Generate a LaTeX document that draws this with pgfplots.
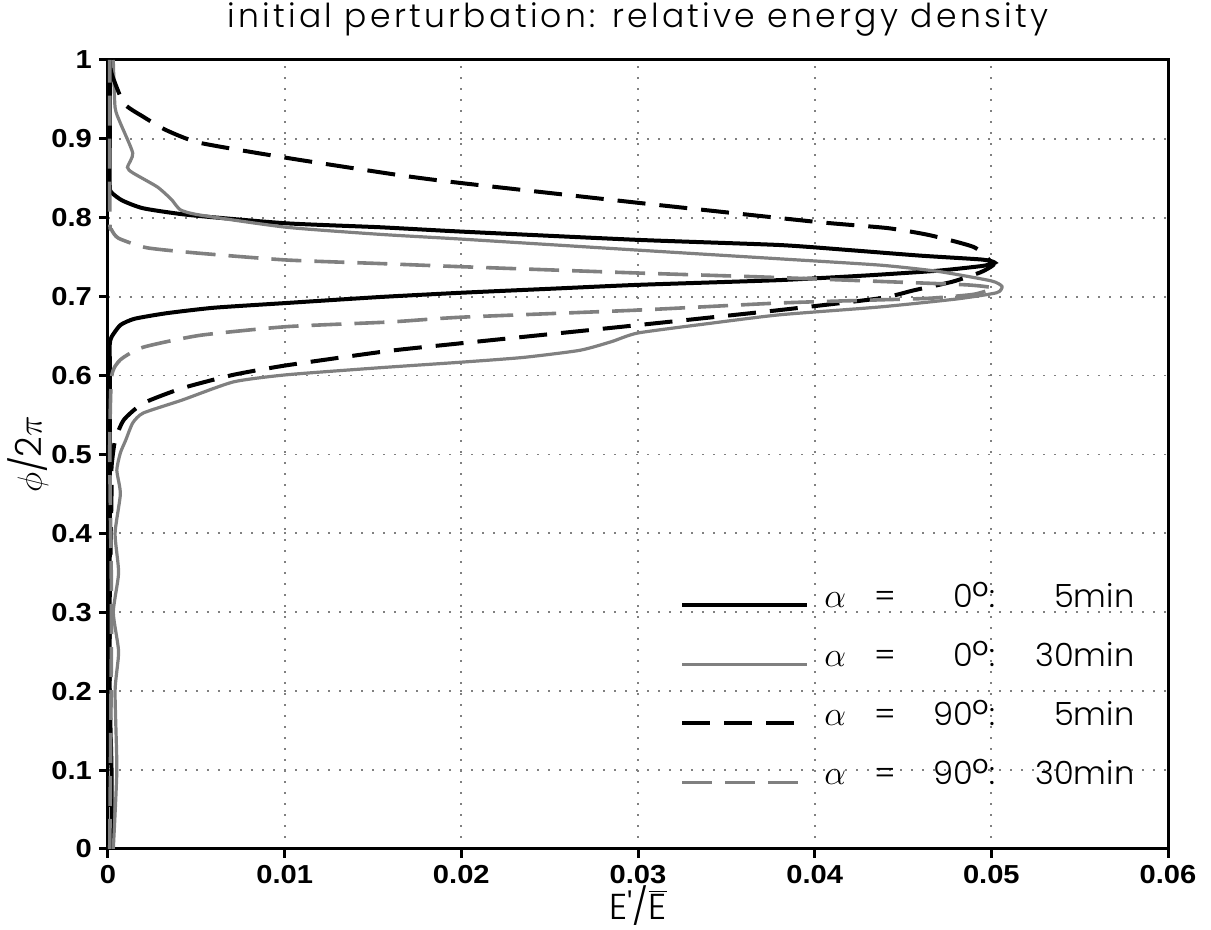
\documentclass[border=0pt]{standalone}
\usepackage{pgfplots}
\pgfplotsset{compat=1.18}
\usepackage{fontspec}
\newfontfamily\lightfont{Poppins Light}
\newfontfamily\titlefont[LetterSpace=10]{Poppins Light}
\newfontfamily\tickfont[FakeStretch=1.12]{Liberation Sans}
\definecolor{cgray}{RGB}{128,128,128}
\newcommand{\dg}{\raisebox{-2pt}{\fontsize{21}{21}\selectfont°}}
\newcommand{\lt}[2]{\makebox[20pt][l]{$\alpha$}\makebox[21pt][c]{=}\makebox[41.5pt][r]{#1\dg}:\makebox[69.5pt][r]{#2min}}
\begin{document}
\begin{tikzpicture}
\path[use as bounding box] (-54pt,-40.5pt) rectangle (551.5pt,424.5pt);
\begin{axis}[
  at={(0pt,0pt)}, anchor=south west,
  scale only axis, width=530pt, height=394.5pt,
  xmin=0, xmax=0.06, ymin=0, ymax=1,
  scaled x ticks=false, scaled y ticks=false,
  xtick={0,0.01,0.02,0.03,0.04,0.05,0.06},
  xticklabels={0,0.01,0.02,0.03,0.04,0.05,0.06},
  ytick={0,0.1,0.2,0.3,0.4,0.5,0.6,0.7,0.8,0.9,1},
  yticklabels={0,0.1,0.2,0.3,0.4,0.5,0.6,0.7,0.8,0.9,1},
  /pgf/number format/assume math mode=true,
  ticklabel style={font=\tickfont\bfseries\fontsize{13}{15}\selectfont},
  xtick pos=left, ytick pos=left,
  tick align=outside, major tick length=4.5pt,
  tick style={black, line width=1.5pt},
  axis line style={black, line width=1.5pt},
  grid=major,
  major grid style={cgray, line width=0.9pt, dash pattern=on 0.9pt off 4.6pt},
  title={initial perturbation: relative energy density},
  every axis title/.style={at={(axis description cs:0.5,1.0406)}, anchor=base, font=\titlefont\fontsize{16.5}{18}\selectfont},
  xlabel={E\textquotesingle/$\overline{\hbox{E}}$},
  every axis x label/.style={at={(axis description cs:0.5,-0.0715)}, anchor=center, font=\lightfont\fontsize{18}{20}\selectfont},
  ylabel={$\phi$/2$\pi$},
  every axis y label/.style={at={(axis description cs:-0.0755,0.5)}, rotate=90, anchor=center, font=\lightfont\fontsize{18}{20}\selectfont},
  legend style={at={(axis description cs:0.5396,0.3346)}, anchor=north west, draw=none, fill=none, inner sep=0pt,
    font=\lightfont\fontsize{16}{18}\selectfont, row sep=17.5pt,
    nodes={inner sep=0pt, text height=11pt, text depth=1pt},
    /tikz/every odd column/.append style={column sep=7.5pt}},
  legend cell align=left,
  legend image code/.code={\draw[#1] (0pt,-4pt) -- (62.5pt,-4pt);},
]
\addplot[black, line width=2pt, smooth, tension=0.35] coordinates {
(0.0002,0) (0.0002,0.1) (0.0001,0.2) (0.0001,0.4) (0.0001,0.55) (0.0001,0.62) (0.0001,0.64) (0.0002,0.649) (0.0007,0.664) (0.0015,0.672) (0.0033,0.679) (0.0060,0.686) (0.0101,0.692) (0.0154,0.6996) (0.020,0.705) (0.025,0.710) (0.030,0.715) (0.038,0.721) (0.043,0.727) (0.047,0.733) (0.0495,0.739) (0.0502,0.743) (0.0495,0.747) (0.046,0.752) (0.042,0.759) (0.038,0.7655) (0.030,0.772) (0.020,0.7825) (0.0154,0.788) (0.0101,0.793) (0.0046,0.8035) (0.002,0.812) (0.0008,0.822) (0.0002,0.832) (0.0001,0.84) (0.0001,0.9) (0.0001,1.0)
};
\addlegendentry{\lt{0}{5}}
\addplot[cgray, line width=1.6pt, smooth, tension=0.35] coordinates {
(0.0003,0) (0.0005,0.1) (0.0004,0.2) (0.0006,0.25) (0.0003,0.3) (0.0006,0.35) (0.0004,0.4) (0.0007,0.45) (0.0005,0.48) (0.0007,0.502) (0.001,0.518) (0.0014,0.540) (0.002,0.5526) (0.0042,0.569) (0.0071,0.592) (0.0101,0.601) (0.0154,0.610) (0.020,0.617) (0.0235,0.623) (0.0267,0.632) (0.0285,0.643) (0.030,0.654) (0.034,0.666) (0.038,0.677) (0.0437,0.687) (0.048,0.697) (0.0503,0.705) (0.0506,0.713) (0.050,0.72) (0.047,0.732) (0.0437,0.740) (0.038,0.748) (0.030,0.759) (0.020,0.773) (0.0154,0.779) (0.0101,0.788) (0.0052,0.8035) (0.0041,0.81) (0.0036,0.823) (0.0028,0.839) (0.0014,0.857) (0.0011,0.864) (0.0014,0.882) (0.0007,0.92) (0.0004,0.94) (0.0003,1.0)
};
\addlegendentry{\lt{0}{30}}
\addplot[black, line width=2pt, dash pattern=on 14pt off 7pt, smooth, tension=0.35] coordinates {
(0.0001,0) (0.0001,0.3) (0.0002,0.45) (0.0002,0.484) (0.0004,0.518) (0.0009,0.544) (0.002,0.565) (0.0042,0.584) (0.0071,0.601) (0.0101,0.613) (0.0158,0.631) (0.020,0.641) (0.030,0.664) (0.038,0.683) (0.0437,0.698) (0.0456,0.708) (0.0478,0.719) (0.0494,0.731) (0.0501,0.74) (0.0499,0.746) (0.049,0.763) (0.0465,0.778) (0.0441,0.787) (0.040,0.795) (0.030,0.819) (0.020,0.844) (0.0165,0.854) (0.0101,0.876) (0.0052,0.895) (0.0033,0.911) (0.002,0.928) (0.0009,0.945) (0.0002,0.983) (0.0001,1.0)
};
\addlegendentry{\lt{90}{5}}
\addplot[cgray, line width=1.8pt, dash pattern=on 15pt off 6.5pt, smooth, tension=0.35] coordinates {
(0.0001,0) (0.0002,0.3) (0.0001,0.5) (0.0002,0.598) (0.0007,0.620) (0.002,0.636) (0.0052,0.651) (0.0101,0.662) (0.016,0.668) (0.020,0.674) (0.030,0.683) (0.038,0.692) (0.0437,0.696) (0.0465,0.698) (0.049,0.703) (0.0501,0.711) (0.0486,0.715) (0.0441,0.719) (0.037,0.725) (0.030,0.730) (0.020,0.738) (0.0154,0.742) (0.0101,0.7465) (0.0052,0.755) (0.0022,0.762) (0.0006,0.774) (0.0002,0.785) (0.0001,0.80) (0.0001,1.0)
};
\addlegendentry{\lt{90}{30}}
\end{axis}
\end{tikzpicture}
\end{document}
